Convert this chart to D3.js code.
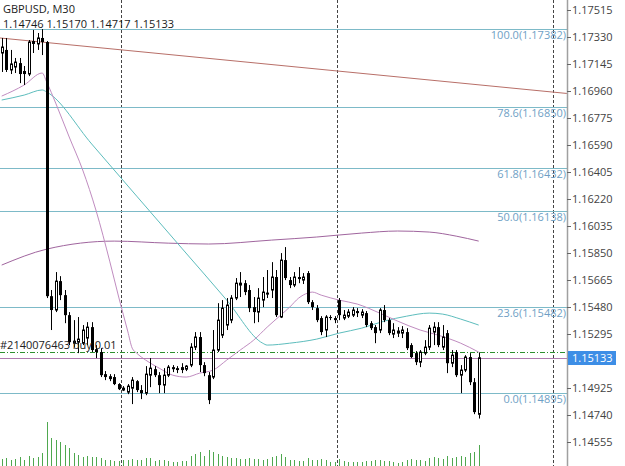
<!DOCTYPE html>
<html><head><meta charset="utf-8">
<script src="https://cdn.jsdelivr.net/npm/d3@7"></script>
<style>body{margin:0;background:#fff;} svg{display:block;font-family:"Open Sans",sans-serif;}</style>
</head><body><svg id="c" width="625" height="466"></svg>
<script>
const symbolTitle = "GBPUSD, M30";
const ohlcText = ["1.14746", "1.15170", "1.14717", "1.15133"];
const opens = [1.17220,1.17241,1.17104,1.17124,1.17151,1.17097,1.17076,1.17302,1.17282,1.17323,
1.17295,1.15555,1.15460,1.15658,1.15562,1.15425,1.15233,1.15240,1.15233,1.15268,
1.15343,1.15192,1.15172,1.15021,1.15007,1.15001,1.14953,1.14912,1.14898,1.14925,
1.14973,1.14912,1.14891,1.15014,1.15055,1.15014,1.14946,1.15014,1.15069,1.15062,
1.15069,1.15055,1.15083,1.15206,1.15275,1.15083,1.15014,1.15001,1.15186,1.15288,
1.15357,1.15391,1.15542,1.15631,1.15644,1.15597,1.15480,1.15446,1.15528,1.15569,
1.15597,1.15686,1.15412,1.15802,1.15665,1.15631,1.15686,1.15665,1.15713,1.15514,
1.15473,1.15405,1.15323,1.15412,1.15405,1.15528,1.15405,1.15418,1.15425,1.15453,
1.15425,1.15439,1.15370,1.15343,1.15323,1.15460,1.15391,1.15295,1.15302,1.15302,
1.15309,1.15220,1.15165,1.15103,1.15165,1.15206,1.15309,1.15343,1.15206,1.15302,
1.15096,1.15172,1.15014,1.15049,1.15138,1.14966,1.14746];
const highs = [1.17323,1.17323,1.17241,1.17186,1.17186,1.17131,1.17309,1.17378,1.17357,1.17384,
1.17302,1.15597,1.15720,1.15692,1.15597,1.15446,1.15391,1.15412,1.15357,1.15377,
1.15377,1.15220,1.15199,1.15042,1.15021,1.15021,1.14959,1.14939,1.14953,1.15001,
1.14980,1.14946,1.15076,1.15131,1.15076,1.15035,1.15062,1.15083,1.15083,1.15076,
1.15096,1.15083,1.15233,1.15309,1.15309,1.15103,1.15035,1.15323,1.15507,1.15528,
1.15542,1.15562,1.15679,1.15720,1.15665,1.15631,1.15549,1.15610,1.15686,1.15734,
1.15788,1.15734,1.15850,1.15891,1.15686,1.15720,1.15754,1.15713,1.15727,1.15528,
1.15494,1.15418,1.15425,1.15425,1.15418,1.15542,1.15460,1.15466,1.15480,1.15473,
1.15466,1.15453,1.15384,1.15357,1.15473,1.15494,1.15405,1.15370,1.15343,1.15350,
1.15336,1.15233,1.15179,1.15186,1.15254,1.15357,1.15377,1.15377,1.15357,1.15323,
1.15186,1.15186,1.15083,1.15151,1.15165,1.14994,1.15170];
const lows = [1.17090,1.17090,1.17076,1.17083,1.17014,1.17001,1.17062,1.17220,1.17241,1.17206,
1.15542,1.15323,1.15446,1.15528,1.15370,1.15220,1.15206,1.15165,1.15220,1.15220,
1.15172,1.15131,1.15001,1.14980,1.14973,1.14946,1.14912,1.14905,1.14884,1.14816,
1.14898,1.14850,1.14877,1.14932,1.15001,1.14891,1.14891,1.15001,1.15035,1.15028,
1.15028,1.15042,1.15069,1.15186,1.15035,1.15007,1.14816,1.14987,1.15172,1.15268,
1.15323,1.15370,1.15528,1.15549,1.15562,1.15446,1.15370,1.15377,1.15480,1.15542,
1.15542,1.15412,1.15405,1.15665,1.15610,1.15617,1.15644,1.15638,1.15501,1.15460,
1.15377,1.15288,1.15275,1.15391,1.15370,1.15391,1.15391,1.15405,1.15412,1.15412,
1.15405,1.15343,1.15323,1.15233,1.15302,1.15377,1.15288,1.15268,1.15275,1.15268,
1.15186,1.15131,1.15083,1.15069,1.15151,1.15186,1.15220,1.15206,1.15186,1.15028,
1.15069,1.15001,1.14891,1.15035,1.14946,1.14747,1.14717];
const closes = [1.17261,1.17104,1.17145,1.17158,1.17076,1.17076,1.17295,1.17282,1.17323,1.17295,
1.15555,1.15460,1.15658,1.15562,1.15425,1.15240,1.15247,1.15261,1.15323,1.15343,
1.15186,1.15172,1.15014,1.15001,1.14987,1.14953,1.14918,1.14925,1.14939,1.14980,
1.14912,1.14891,1.15021,1.15062,1.15014,1.14946,1.15014,1.15069,1.15055,1.15049,
1.15049,1.15076,1.15206,1.15275,1.15083,1.15028,1.14843,1.15186,1.15391,1.15473,
1.15494,1.15542,1.15644,1.15644,1.15583,1.15473,1.15446,1.15542,1.15583,1.15576,
1.15686,1.15425,1.15802,1.15679,1.15631,1.15686,1.15672,1.15686,1.15514,1.15480,
1.15391,1.15309,1.15412,1.15405,1.15391,1.15425,1.15425,1.15446,1.15460,1.15439,
1.15446,1.15357,1.15336,1.15302,1.15460,1.15391,1.15302,1.15323,1.15316,1.15323,
1.15199,1.15138,1.15103,1.15172,1.15206,1.15336,1.15343,1.15220,1.15275,1.15096,
1.15151,1.15014,1.15049,1.15138,1.14966,1.14761,1.15133];
const volumes = [700,800,600,700,900,600,1000,800,900,1300,
4400,2800,2600,2400,2100,1800,1300,1100,900,1000,
900,900,800,600,600,500,500,600,600,700,
600,600,800,800,500,600,600,500,400,400,
500,500,1000,1200,1400,1000,1600,1400,1200,1000,
900,800,800,700,700,800,700,700,600,700,
900,1000,1200,900,600,600,500,500,800,600,
600,700,600,400,400,700,500,400,400,400,
400,500,500,600,600,500,500,400,300,400,
600,700,600,600,500,800,900,800,700,1000,
800,900,1000,900,1300,1400,2100];
const priceTicks = [1.17515,1.17330,1.17145,1.16960,1.16775,1.16590,1.16405,1.16220,1.16035,
1.15850,1.15665,1.15480,1.15295,1.14925,1.14740,1.14555];
const fibNames = ["100.0","78.6","61.8","50.0","23.6","0.0"];
const fibPrices = [1.17382,1.16850,1.16432,1.16138,1.15482,1.14895];
const daySeparators = [26.5, 74.5, 122.5];
const maFast = [[0,1.16925],[5,1.17001],[9,1.17083],[10,1.17021],[12,1.16877],[15,1.16645],[18,1.16419],
[21,1.16138],[24,1.15795],[26,1.15549],[28,1.15316],[29,1.15199],[30,1.15165],[32,1.15117],[35,1.15062],
[38,1.15014],[41,1.15001],[44,1.15028],[47,1.15049],[50,1.15117],[53,1.15186],[56,1.15254],[59,1.15343],
[62,1.15425],[64,1.15480],[66,1.15542],[68,1.15576],[69,1.15583],[71,1.15562],[75,1.15528],[79,1.15501],
[84,1.15439],[88,1.15384],[93,1.15323],[97,1.15288],[102,1.15233],[106,1.15172]];
const maMid = [[0,1.16898],[5,1.16932],[9,1.16967],[10,1.16953],[20,1.16597],[30,1.16240],[40,1.15884],
[50,1.15528],[58,1.15233],[59,1.15220],[64,1.15233],[70,1.15261],[75,1.15302],[80,1.15336],[85,1.15384],
[90,1.15418],[95,1.15439],[98,1.15432],[102,1.15398],[106,1.15357]];
const maSlow = [[0,1.15768],[10,1.15877],[25,1.15932],[37,1.15918],[46,1.15912],[60,1.15939],[70,1.15960],
[80,1.15987],[88,1.16001],[95,1.15994],[101,1.15966],[106,1.15932]];
const trendLine = [[-0.4,1.17323],[125.6,1.16943]];
const orderPrice = 1.15175;
const orderLabel = "#2140076463 buy 0.01";
const bidPrice = 1.15133;

const W = 625, H = 466, plotR = 567;
const svg = d3.select("#c");
const x = d3.scaleLinear().domain([0, 106]).range([1.7, 478.7]);
const y = d3.scaleLinear().domain([1.14392, 1.17583]).range([H, 0]);
const vh = d3.scaleLinear().domain([0, 4400]).range([0, 44]);

svg.append("rect").attr("width", W).attr("height", H).attr("fill", "#fff");
svg.append("defs").append("clipPath").attr("id", "pc").append("rect")
  .attr("x", 0).attr("y", 0).attr("width", plotR).attr("height", H);
const g = svg.append("g").attr("clip-path", "url(#pc)");

// day separators
g.selectAll("line.sep").data(daySeparators).join("line")
  .attr("x1", d => Math.round(x(d)) + 0.5).attr("x2", d => Math.round(x(d)) + 0.5)
  .attr("y1", 0).attr("y2", H).attr("stroke", "#444").attr("stroke-dasharray", "3,2");

// volumes
const bars = d3.range(opens.length);
g.selectAll("line.vol").data(bars).join("line")
  .attr("x1", i => Math.round(x(i)) + 0.5).attr("x2", i => Math.round(x(i)) + 0.5)
  .attr("y1", H).attr("y2", i => H - vh(volumes[i]))
  .attr("stroke", "#4fa84f").attr("stroke-width", 1);

// fib levels
g.selectAll("line.fib").data(fibPrices).join("line")
  .attr("x1", 0).attr("x2", plotR)
  .attr("y1", d => Math.round(y(d)) + 0.5).attr("y2", d => Math.round(y(d)) + 0.5)
  .attr("stroke", "#7dbac8").attr("stroke-width", 1);
g.selectAll("text.fib").data(fibPrices).join("text")
  .attr("x", plotR - 1).attr("y", d => Math.round(y(d)) + 10)
  .attr("text-anchor", "end").attr("font-size", 11).attr("fill", "#6f9fc5")
  .text((d, i) => fibNames[i] + "(" + d.toFixed(5) + ")");

// trend line
g.append("line").attr("x1", x(trendLine[0][0])).attr("y1", y(trendLine[0][1]))
  .attr("x2", x(trendLine[1][0])).attr("y2", y(trendLine[1][1]))
  .attr("stroke", "#b86f68").attr("stroke-width", 1);

// moving averages
const line = d3.line().x(d => x(d[0])).y(d => y(d[1])).curve(d3.curveMonotoneX);
g.append("path").attr("d", line(maSlow)).attr("fill", "none").attr("stroke", "#a0659e").attr("stroke-width", 1);
g.append("path").attr("d", line(maMid)).attr("fill", "none").attr("stroke", "#5dbdbd").attr("stroke-width", 1);
g.append("path").attr("d", line(maFast)).attr("fill", "none").attr("stroke", "#c08cc0").attr("stroke-width", 1);

// order line and bid line
g.append("line").attr("x1", 0).attr("x2", plotR)
  .attr("y1", Math.round(y(orderPrice)) + 0.5).attr("y2", Math.round(y(orderPrice)) + 0.5)
  .attr("stroke", "#2f8f2f").attr("stroke-dasharray", "5,2,1,2");
g.append("line").attr("x1", 0).attr("x2", plotR)
  .attr("y1", Math.round(y(bidPrice)) + 0.5).attr("y2", Math.round(y(bidPrice)) + 0.5)
  .attr("stroke", "#b07ab0").attr("stroke-width", 1.2);

// candles
const cx = i => Math.round(x(i)) + 0.5;
g.selectAll("line.wick").data(bars).join("line")
  .attr("x1", cx).attr("x2", cx)
  .attr("y1", i => y(highs[i])).attr("y2", i => y(lows[i]))
  .attr("stroke", "#000").attr("stroke-width", 1);
g.selectAll("rect.body").data(bars).join("rect")
  .attr("x", i => closes[i] >= opens[i] ? cx(i) - 1 : cx(i) - 1.5)
  .attr("width", i => closes[i] >= opens[i] ? 2 : 3)
  .attr("y", i => y(Math.max(opens[i], closes[i])))
  .attr("height", i => Math.max(1, Math.abs(y(opens[i]) - y(closes[i]))))
  .attr("fill", i => closes[i] >= opens[i] ? "#fff" : "#000")
  .attr("stroke", i => closes[i] >= opens[i] ? "#000" : "none")
  .attr("stroke-width", 1);

// order label
g.append("text").attr("x", 0).attr("y", y(orderPrice) - 3)
  .attr("font-size", 11).attr("fill", "#222").text(orderLabel);

// title texts
svg.append("text").attr("x", 3).attr("y", 13).attr("font-size", 11).attr("fill", "#1a1a1a").text(symbolTitle);
svg.append("text").attr("x", 3).attr("y", 28).attr("font-size", 11).attr("fill", "#1a1a1a").text(ohlcText.join(" "));

// price axis
svg.append("line").attr("x1", plotR + 0.5).attr("x2", plotR + 0.5).attr("y1", 0).attr("y2", H)
  .attr("stroke", "#a0a0a0").attr("stroke-width", 1.5);
const ax = svg.append("g");
ax.selectAll("line").data(priceTicks).join("line")
  .attr("x1", plotR).attr("x2", plotR + 4)
  .attr("y1", d => Math.round(y(d)) + 0.5).attr("y2", d => Math.round(y(d)) + 0.5)
  .attr("stroke", "#666");
ax.selectAll("text").data(priceTicks).join("text")
  .attr("x", plotR + 5).attr("y", d => y(d) + 4)
  .attr("font-size", 11).attr("fill", "#444").text(d => d.toFixed(5));

// current price label
svg.append("rect").attr("x", plotR + 1).attr("y", Math.round(y(bidPrice)) - 7)
  .attr("width", 48).attr("height", 14).attr("fill", "#3d8ee6");
svg.append("text").attr("x", plotR + 5).attr("y", y(bidPrice) + 4)
  .attr("font-size", 11).attr("fill", "#fff").text(bidPrice.toFixed(5));
</script></body></html>
